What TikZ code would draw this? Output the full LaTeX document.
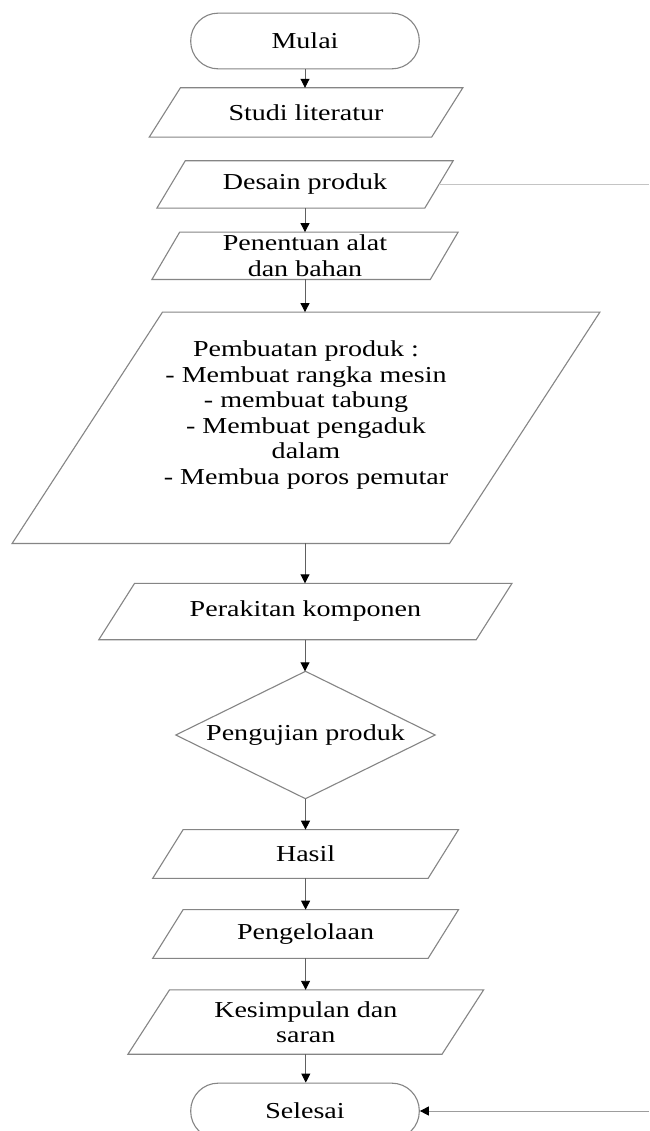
\documentclass[tikz,border=0pt]{standalone}
\usepackage{fontspec}
\setmainfont{Liberation Serif}[FakeStretch=1.23]
\usetikzlibrary{arrows.meta}
\definecolor{edgec}{HTML}{858585}
\definecolor{connc}{HTML}{606060}
\definecolor{faintc}{HTML}{C4C4C4}
\newcommand\pgon[2]{\draw[outl] ([xshift=#2]#1.north west) -- ([xshift=#2]#1.north east) -- ([xshift=-#2]#1.south east) -- ([xshift=-#2]#1.south west) -- cycle;}
\begin{document}
\begin{tikzpicture}[x=1pt,y=-1pt,
  txt/.style={font=\fontsize{22.8}{25.5}\selectfont, align=center, inner sep=0pt},
  frame/.style={rectangle, txt, inner sep=0pt},
  outl/.style={draw=edgec, line width=1.1pt, line join=miter},
  term/.style={rectangle, txt, draw=edgec, line width=1.1pt, rounded corners=27.5pt, minimum width=228.6pt, minimum height=55.7pt},
  arr/.style={draw=connc, line width=0.9pt, -{Triangle[width=9pt,length=9pt,color=black]}},
  faintline/.style={draw=faintc, line width=1.1pt}
]
\useasboundingbox[fill=white] (0,0) rectangle (649,1131);

\node[term] (mulai) at (305,41) {Mulai};

\node[frame, minimum width=282pt, minimum height=49pt] (studi) at (306,112.5) {Studi literatur};
\pgon{studi}{15.6pt}

\node[frame, minimum width=267.5pt, minimum height=47pt] (desain) at (305,184.5) {Desain produk};
\pgon{desain}{14.2pt}

\node[frame, minimum width=278pt, minimum height=47pt] (alat) at (305,255.8) {Penentuan alat\\dan bahan};
\pgon{alat}{13.9pt}

\node[frame, minimum width=437pt, minimum height=231pt] (big) at (306,427.8) {};
\pgon{big}{75.2pt}
\node[txt] (bigtxt) at (306,415) {Pembuatan produk :\\- Membuat rangka mesin\\- membuat tabung\\- Membuat pengaduk\\dalam\\- Membua poros pemutar};

\node[frame, minimum width=377pt, minimum height=56pt] (rakit) at (305.4,611.5) {Perakitan komponen};
\pgon{rakit}{17.9pt}

\node[frame, minimum width=259pt, minimum height=127pt] (uji) at (305.5,735) {Pengujian produk};
\draw[outl] (uji.north) -- (uji.east) -- (uji.south) -- (uji.west) -- cycle;

\node[frame, minimum width=275pt, minimum height=48.3pt] (hasil) at (305.6,854) {Hasil};
\pgon{hasil}{15.2pt}

\node[frame, minimum width=275pt, minimum height=48.3pt] (kelola) at (305.6,934) {Pengelolaan};
\pgon{kelola}{15.2pt}

\node[frame, minimum width=313.7pt, minimum height=64pt] (simpul) at (305.8,1022) {Kesimpulan dan\\saran};
\pgon{simpul}{20.8pt}

\node[term] (selesai) at (305,1111) {Selesai};

\draw[arr] (mulai.south) -- (mulai.south |- studi.north);
\draw[arr] (305,208) coordinate (d0) -- (d0 |- alat.north);
\draw[arr] (alat.south) -- (alat.south |- big.north);
\draw[arr] (305,543.3) coordinate (b0) -- (b0 |- rakit.north);
\draw[arr] (305,639.5) coordinate (k0) -- (k0 |- uji.north);
\draw[arr] (uji.south) -- (uji.south |- hasil.north);
\draw[arr] (hasil.south) -- (hasil.south |- kelola.north);
\draw[arr] (kelola.south) -- (kelola.south |- simpul.north);
\draw[arr] (simpul.south) -- (simpul.south |- selesai.north);

\coordinate (r1) at (649,184.5);
\draw[faintline] (desain.east) -- (r1);
\coordinate (r2) at (649,1111);
\draw[arr, draw=faintc!80!black] (r2) -- (selesai.east);
\end{tikzpicture}
\end{document}
